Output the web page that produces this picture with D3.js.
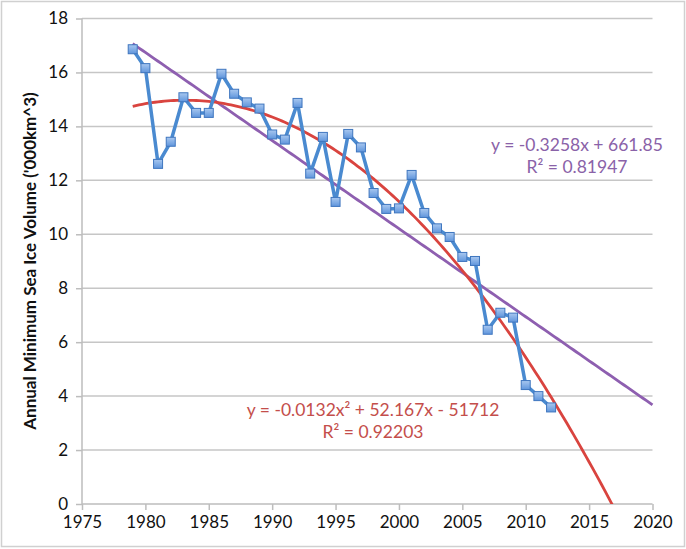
<!DOCTYPE html>
<html><head><meta charset="utf-8">
<script src="https://cdn.jsdelivr.net/npm/d3@7"></script>
<style>
html,body{margin:0;padding:0;background:#fff;}
svg{display:block;font-family:Lato,"Open Sans",sans-serif;}
</style></head>
<body><svg id="c" width="686" height="549"></svg>
<script>
const years = [1979,1980,1981,1982,1983,1984,1985,1986,1987,1988,1989,1990,1991,1992,1993,1994,1995,1996,1997,1998,1999,2000,2001,2002,2003,2004,2005,2006,2007,2008,2009,2010,2011,2012];
const volume = [16.86,16.16,12.61,13.43,15.08,14.50,14.50,15.95,15.21,14.89,14.66,13.70,13.51,14.87,12.25,13.61,11.20,13.72,13.22,11.53,10.94,10.96,12.20,10.79,10.22,9.90,9.16,9.01,6.46,7.09,6.91,4.41,4.00,3.58];
const xTicks = [1975,1980,1985,1990,1995,2000,2005,2010,2015,2020];
const yTicks = [0,2,4,6,8,10,12,14,16,18];
const linearLabel = ["y = -0.3258x + 661.85", "R² = 0.81947"];
const polyLabel = ["y = -0.0132x² + 52.167x - 51712", "R² = 0.92203"];
const yTitle = "Annual Minimum Sea Ice Volume ('000km^3)";

const svg = d3.select("#c");
const L=82, R=652.5, T=18.5, B=504;
const x = d3.scaleLinear().domain([1975,2020]).range([L,R]);
const y = d3.scaleLinear().domain([0,18]).range([B,T]);

// outer frame
svg.append("rect").attr("x",1.5).attr("y",1.5).attr("width",683).attr("height",545)
  .attr("fill","#fff").attr("stroke","#d0d0d0").attr("stroke-width",1.5);

// gridlines
svg.append("g").selectAll("line").data(yTicks.filter(d=>d>0)).join("line")
  .attr("x1",L).attr("x2",R).attr("y1",d=>y(d)).attr("y2",d=>y(d))
  .attr("stroke","#c6c6c6").attr("stroke-width",1.5);

// axes
const gy = svg.append("g").attr("transform",`translate(${L},0)`)
  .call(d3.axisLeft(y).tickValues(yTicks).tickSize(6).tickPadding(8));
const gx = svg.append("g").attr("transform",`translate(0,${B})`)
  .call(d3.axisBottom(x).tickValues(xTicks).tickFormat(d3.format("d")).tickSize(6).tickPadding(6));
[gy,gx].forEach(g=>{
  g.selectAll("path,line").attr("stroke","#bdbdbd").attr("stroke-width",1.5);
  g.select(".domain").attr("d", g===gy ? `M-0,${T}V${B}` : `M${L},0H${R}`);
  g.selectAll("text").attr("font-family","Lato,sans-serif").attr("font-size",17).attr("fill","#111");
});

// y title
svg.append("text").attr("transform",`translate(36,261) rotate(-90)`)
  .attr("text-anchor","middle").attr("font-weight","bold").attr("font-size",17).attr("fill","#111")
  .text(yTitle);

// least-squares fits from data
function polyfit(xs, ys, deg){
  const m = deg+1, x0 = d3.mean(xs);
  const A = Array.from({length:m},()=>Array(m+1).fill(0));
  xs.forEach((xv,i)=>{
    const t = xv - x0;
    for(let r=0;r<m;r++){ for(let c=0;c<m;c++) A[r][c]+=Math.pow(t,r+c); A[r][m]+=Math.pow(t,r)*ys[i]; }
  });
  for(let i=0;i<m;i++){
    let p=i; for(let k=i+1;k<m;k++) if(Math.abs(A[k][i])>Math.abs(A[p][i])) p=k;
    [A[i],A[p]]=[A[p],A[i]];
    for(let k=0;k<m;k++) if(k!==i){ const f=A[k][i]/A[i][i]; for(let c=i;c<=m;c++) A[k][c]-=f*A[i][c]; }
  }
  const co = A.map((r,i)=>r[m]/r[i]);
  return xv => co.reduce((s,c,i)=>s+c*Math.pow(xv-x0,i),0);
}
const linF = polyfit(years, volume, 1);
const quadF = polyfit(years, volume, 2);
const xs = d3.range(1979, 2020.001, 0.25);

svg.append("clipPath").attr("id","plot").append("rect").attr("x",L).attr("y",T-5).attr("width",R-L+2).attr("height",B-T+5);

const line = d3.line().x(d=>x(d[0])).y(d=>y(d[1]));
svg.append("path").attr("clip-path","url(#plot)")
  .attr("d", line(xs.map(v=>[v,linF(v)])))
  .attr("fill","none").attr("stroke","#8e5fb0").attr("stroke-width",2.8);
const qx = xs.filter(v=>quadF(v)>=0);
svg.append("path").attr("clip-path","url(#plot)")
  .attr("d", line(qx.map(v=>[v,quadF(v)]).concat([[d3.max(qx)+0.25,quadF(d3.max(qx)+0.25)]])))
  .attr("fill","none").attr("stroke","#d9443f").attr("stroke-width",2.8);

// data line
const data = years.map((yr,i)=>[yr,volume[i]]);
svg.append("path").attr("d",line(data)).attr("fill","none")
  .attr("stroke","#4a8ad0").attr("stroke-width",3.5).attr("stroke-linejoin","round");

const defs = svg.append("defs");
const gr = defs.append("linearGradient").attr("id","mk").attr("x1",0).attr("y1",0).attr("x2",0).attr("y2",1);
gr.append("stop").attr("offset","0%").attr("stop-color","#a9c8f0");
gr.append("stop").attr("offset","100%").attr("stop-color","#5f95dc");
svg.append("g").selectAll("rect").data(data).join("rect")
  .attr("x",d=>x(d[0])-4.5).attr("y",d=>y(d[1])-4.5).attr("width",9).attr("height",9)
  .attr("fill","url(#mk)").attr("stroke","#3f76bf").attr("stroke-width",1);

// labels
function label(lines, cx, y0, color){
  svg.append("g").selectAll("text").data(lines).join("text")
    .attr("x",cx).attr("y",(d,i)=>y0+i*22).attr("text-anchor","middle")
    .attr("font-size",17.5).attr("fill",color).text(d=>d);
}
label(linearLabel, 577, 151, "#8a62a8");
label(polyLabel, 373, 416, "#c44e4b");
</script></body></html>
